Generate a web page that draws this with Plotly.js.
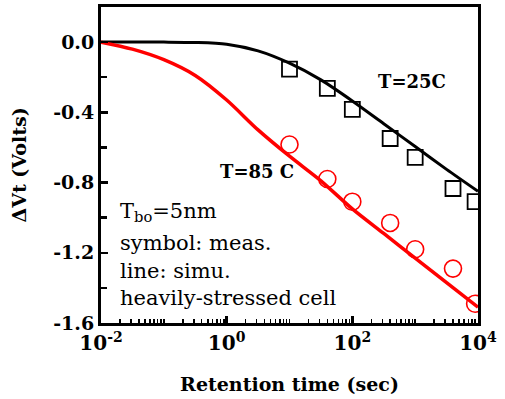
<!DOCTYPE html>
<html>
<head>
<meta charset="utf-8">
<script src="https://cdn.plot.ly/plotly-3.0.1.min.js"></script>
<style>html,body{margin:0;padding:0;background:#fff;}#chart{width:505px;height:399px;}</style>
</head>
<body>
<div id="chart"></div>
<script>
// Simulation curves (line)
const tSim = [0.01, 0.0316, 0.1, 0.316, 1, 3.16, 10, 31.6, 100, 316, 1000, 3160, 10000];
const dvtSim25 = [0, 0, 0, -0.002, -0.012, -0.05, -0.12, -0.215, -0.335, -0.465, -0.595, -0.725, -0.85];
const dvtSim85 = [0, -0.04, -0.10, -0.19, -0.33, -0.50, -0.65, -0.79, -0.95, -1.09, -1.23, -1.37, -1.51];
// Measurements (symbols)
const tMeas = [10, 40, 100, 400, 1000, 4000, 9000];
const dvtMeas25 = [-0.154, -0.263, -0.383, -0.549, -0.657, -0.834, -0.909];
const dvtMeas85 = [-0.583, -0.78, -0.909, -1.03, -1.18, -1.29, -1.49];
// Ticks
const xTickVals = [0.01, 1, 100, 10000];
const xTickText = ['10<sup>-2</sup>', '10<sup>0</sup>', '10<sup>2</sup>', '10<sup>4</sup>'];
const xTopTickVals = [0.01, 0.1, 1, 10, 100, 1000, 10000];
const yTickVals = [0, -0.4, -0.8, -1.2, -1.6];
const yTickText = ['0.0', '-0.4', '-0.8', '-1.2', '-1.6'];
const yMinorVals = [-0.2, -0.6, -1.0, -1.4];

const SERIF = 'DejaVu Serif';

const traces = [
  {x: tSim, y: dvtSim25, mode: 'lines', line: {color: '#000000', width: 3, shape: 'spline', smoothing: 0.8}, hoverinfo: 'skip'},
  {x: tSim, y: dvtSim85, mode: 'lines', line: {color: '#ff0000', width: 3.5, shape: 'spline', smoothing: 0.8}, hoverinfo: 'skip'},
  {x: tMeas, y: dvtMeas25, mode: 'markers', marker: {symbol: 'square-open', size: 15, color: '#000000', line: {width: 1.8, color: '#000000'}}, hoverinfo: 'skip'},
  {x: tMeas, y: dvtMeas85, mode: 'markers', marker: {symbol: 'circle-open', size: 17, color: '#ff0000', line: {width: 1.6, color: '#ff0000'}}, hoverinfo: 'skip'}
];

const layout = {
  width: 505, height: 399,
  margin: {l: 101, r: 27, t: 7, b: 76},
  paper_bgcolor: '#ffffff', plot_bgcolor: '#ffffff',
  showlegend: false,
  font: {family: SERIF, color: '#000'},
  xaxis: {
    type: 'log', range: [-2, 4],
    showline: true, linewidth: 3, linecolor: '#000', mirror: true,
    showgrid: false, zeroline: false,
    ticks: 'inside', ticklen: 7, tickwidth: 2.5, tickcolor: '#000',
    tickmode: 'array', tickvals: xTickVals, ticktext: xTickText,
    tickfont: {family: SERIF, size: 20, color: '#000', weight: 'bold'},
    minor: {ticks: 'inside', ticklen: 4, tickwidth: 1.5, tickcolor: '#000', dtick: 'D1', showgrid: false},
    title: {text: 'Retention time (sec)', font: {family: SERIF, size: 19, color: '#000', weight: 'bold'}, standoff: 24}
  },
  xaxis2: {
    type: 'log', range: [-2, 4], overlaying: 'x', side: 'top', anchor: 'y',
    showline: false, showgrid: false, zeroline: false,
    ticks: 'inside', ticklen: 7, tickwidth: 2.5, tickcolor: '#000',
    tickmode: 'array', tickvals: xTopTickVals, showticklabels: false
  },
  yaxis: {
    range: [-1.6, 0.2],
    showline: true, linewidth: 3, linecolor: '#000', mirror: true,
    showgrid: false, zeroline: false,
    ticks: 'inside', ticklen: 7, tickwidth: 2.5, tickcolor: '#000',
    tickmode: 'array', tickvals: yTickVals, ticktext: yTickText,
    tickfont: {family: SERIF, size: 19, color: '#000', weight: 'bold'},
    minor: {ticks: 'inside', ticklen: 6, tickwidth: 2.5, tickcolor: '#000', tickmode: 'array', tickvals: yMinorVals, showgrid: false},
    title: {text: 'ΔVt (Volts)', font: {family: SERIF, size: 19, color: '#000', weight: 'bold'}, standoff: 22}
  },
  yaxis2: {
    range: [-1.6, 0.2], overlaying: 'y', side: 'right', anchor: 'x',
    showline: false, showgrid: false, zeroline: false,
    ticks: 'inside', ticklen: 7, tickwidth: 2.5, tickcolor: '#000',
    tickmode: 'array', tickvals: yTickVals, showticklabels: false
  },
  annotations: [
    {xref: 'paper', yref: 'paper', x: 0.825, y: 0.763, text: 'T=25C', showarrow: false, xanchor: 'center', yanchor: 'middle', font: {family: SERIF, size: 18, color: '#000', weight: 'bold'}},
    {xref: 'paper', yref: 'paper', x: 0.414, y: 0.478, text: 'T=85 C', showarrow: false, xanchor: 'center', yanchor: 'middle', font: {family: SERIF, size: 18, color: '#000', weight: 'bold'}},
    {xref: 'paper', yref: 'paper', x: 0.045, y: 0.351, text: 'T<sub>bo</sub>=5nm', showarrow: false, xanchor: 'left', yanchor: 'middle', font: {family: SERIF, size: 21, color: '#000'}},
    {xref: 'paper', yref: 'paper', x: 0.045, y: 0.253, text: 'symbol: meas.', showarrow: false, xanchor: 'left', yanchor: 'middle', font: {family: SERIF, size: 21, color: '#000'}},
    {xref: 'paper', yref: 'paper', x: 0.045, y: 0.165, text: 'line: simu.', showarrow: false, xanchor: 'left', yanchor: 'middle', font: {family: SERIF, size: 21, color: '#000'}},
    {xref: 'paper', yref: 'paper', x: 0.045, y: 0.079, text: 'heavily-stressed cell', showarrow: false, xanchor: 'left', yanchor: 'middle', font: {family: SERIF, size: 21, color: '#000'}}
  ]
};

Plotly.newPlot('chart', traces, layout, {staticPlot: true, displayModeBar: false});
</script>
</body>
</html>
